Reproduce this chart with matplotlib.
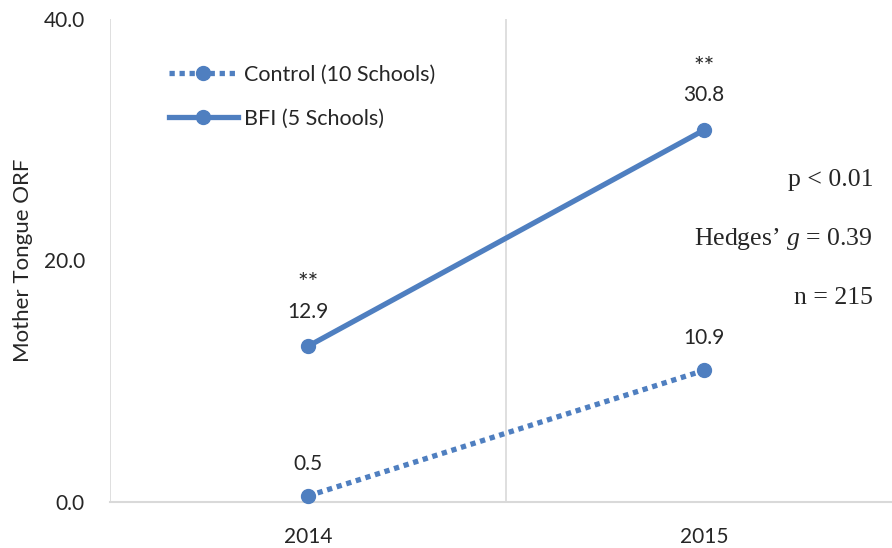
import matplotlib.pyplot as plt
from matplotlib.lines import Line2D

years = ['2014', '2015']
control = [0.5, 10.9]
bfi = [12.9, 30.8]
bfi_sig = ['**', '**']
stats = ['p < 0.01', "Hedges\u2019 $g$ = 0.39", 'n = 215']

blue = '#4F7FC0'
grid = '#D9D9D9'
txt = '#262626'

plt.rcParams['font.family'] = ['Lato', 'DejaVu Sans']
plt.rcParams['mathtext.fontset'] = 'custom'
plt.rcParams['mathtext.it'] = 'Liberation Serif:italic'
plt.rcParams['mathtext.rm'] = 'Liberation Serif'

fig = plt.figure(figsize=(8.92, 5.48), dpi=100)
ax = fig.add_axes([110 / 892, 1 - 502 / 548, 792 / 892, 483 / 548])

x = list(range(len(years)))
ax.plot(x, control, color=blue, lw=3.8, ls=(0, (1, 0.9)), marker='o', ms=10,
        dash_capstyle='butt', zorder=3, clip_on=False)
ax.plot(x, bfi, color=blue, lw=3.8, marker='o', ms=10, solid_capstyle='round',
        zorder=3, clip_on=False)

for i in x:
    ax.annotate(f'{control[i]:.1f}', (i, control[i]), xytext=(0, 23),
                textcoords='offset points', ha='center', va='center',
                fontsize=15, color=txt)
    ax.annotate(f'{bfi[i]:.1f}', (i, bfi[i]), xytext=(0, 25),
                textcoords='offset points', ha='center', va='center',
                fontsize=15, color=txt)
    ax.annotate(bfi_sig[i], (i, bfi[i]), xytext=(0, 45),
                textcoords='offset points', ha='center', va='center',
                fontsize=18, color=txt)

ax.set_xlim(-0.5, 1.5)
ax.set_ylim(0, 40)
ax.set_yticks([0, 20, 40])
ax.set_yticklabels([f'{v:.1f}' for v in [0, 20, 40]])
ax.set_xticks(x)
ax.set_xticklabels(years)
ax.tick_params(axis='both', length=0, labelsize=15, labelcolor=txt)
ax.tick_params(axis='y', pad=18)
ax.tick_params(axis='x', pad=18)

for s in ['top', 'right', 'left']:
    ax.spines[s].set_visible(False)
ax.spines['bottom'].set_color(grid)
ax.spines['bottom'].set_linewidth(1.5)
for b in [-0.5, 0.5, 1.5]:
    ax.axvline(b, color=grid, lw=1.2, zorder=1)
ax.set_ylabel('Mother Tongue ORF', fontsize=16, color=txt, labelpad=8)

for k, s in enumerate(stats):
    fig.text(873 / 892, 1 - (180 + k * 59) / 548, s, ha='right', va='center',
             fontsize=18.5, color=txt, family=['Liberation Serif', 'DejaVu Serif'])

handles = [Line2D([], [], color=blue, lw=3.8, ls=(0, (1, 0.9)), marker='o', ms=10,
                  dash_capstyle='butt'),
           Line2D([], [], color=blue, lw=3.8, marker='o', ms=10)]
ax.legend(handles, ['Control (10 Schools)', 'BFI (5 Schools)'], loc='upper left',
          bbox_to_anchor=(0.05, 0.945), frameon=False, fontsize=15.5, handlelength=3.2,
          labelspacing=1.1, handletextpad=0.3, labelcolor=txt)

fig.savefig('out.png', dpi=100)
